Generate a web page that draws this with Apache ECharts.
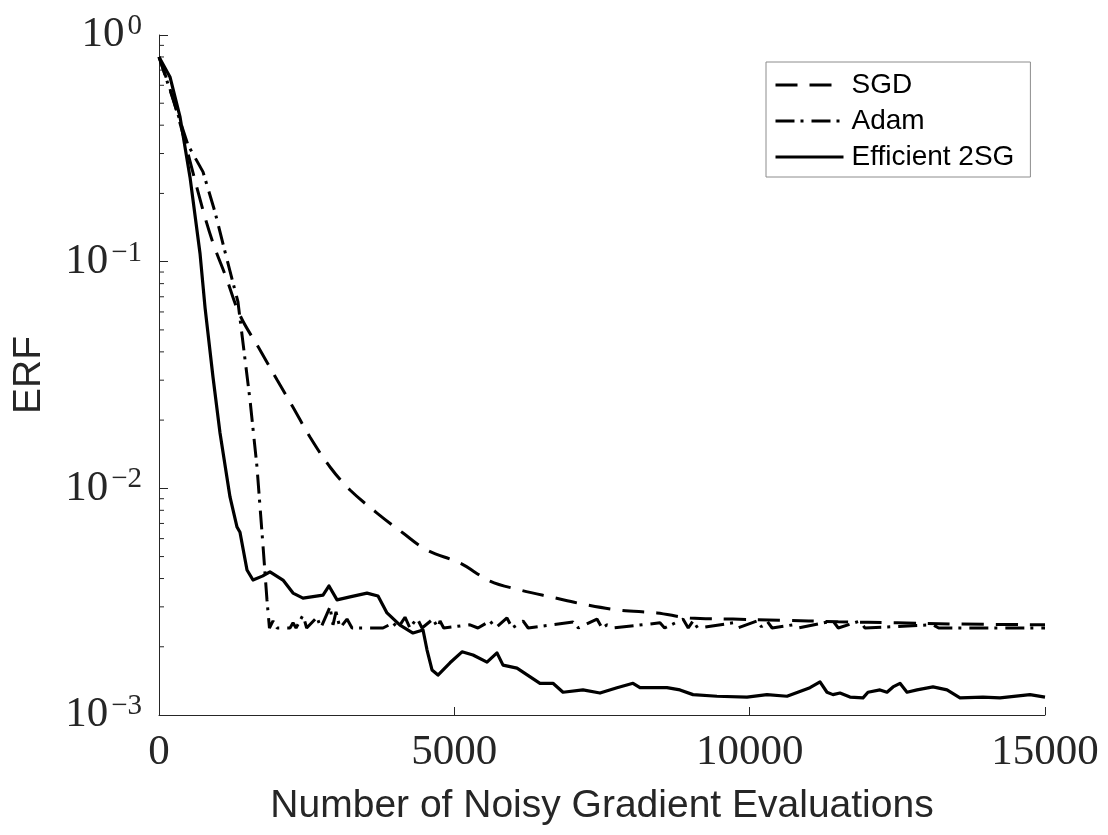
<!DOCTYPE html>
<html>
<head>
<meta charset="utf-8">
<script src="https://cdn.jsdelivr.net/npm/echarts@6/dist/echarts.min.js"></script>
<style>
  html, body { margin: 0; padding: 0; background: #fff; }
  #main { width: 1108px; height: 835px; }
</style>
</head>
<body>
<div id="main"></div>
<script>
// series names as they appear in the legend
var seriesNames = ['SGD', 'Adam', 'Efficient 2SG'];

// SGD (dashed)
var sgdX = [0, 271, 728, 914, 1134, 1371, 1710, 1998, 2269, 2556, 2895, 3234, 3691, 4131, 4537,
  5096, 5604, 6112, 6670, 7246, 7805, 8431, 8990, 9718, 10500, 11500, 12500, 13500, 15000];
var sgdY = [0.80, 0.49, 0.175, 0.121, 0.0856, 0.058, 0.0408, 0.0301, 0.0228, 0.01684, 0.01242,
  0.00983, 0.00778, 0.00635, 0.00534, 0.00468, 0.0039, 0.00356, 0.0033, 0.00306, 0.0029,
  0.00282, 0.00268, 0.00265, 0.00262, 0.00258, 0.00255, 0.00252, 0.0025];

// Adam (dash-dot)
var adamX = [0, 186, 491, 745, 948, 1101, 1337, 1541, 1659, 1761, 1828, 1870, 1930, 2000, 2218,
  2269, 2320, 2438, 2500, 2675, 2740, 2895, 2946, 2997, 3064, 3183, 3268, 3792, 3962, 4046,
  4165, 4249, 4368, 4453, 4639, 4723, 4758, 4820, 5265, 5400, 5604, 5700, 5891, 5980, 6163,
  6250, 7009, 7100, 7415, 7500, 7585, 7680, 8482, 8560, 8871, 8960, 9041, 9120, 9718, 9800,
  10124, 10200, 10293, 10380, 10733, 10820, 11411, 11500, 11868, 11950, 13104, 13200, 15000];
var adamY = [0.80, 0.572, 0.327, 0.249, 0.1656, 0.1149, 0.0664, 0.0245, 0.01242, 0.00557,
  0.00322, 0.00242, 0.0026, 0.00242, 0.00242, 0.00255, 0.00242, 0.00276, 0.00242, 0.0027,
  0.00242, 0.0030, 0.0025, 0.00285, 0.00242, 0.00265, 0.00242, 0.00242, 0.00255, 0.00242,
  0.0027, 0.00242, 0.00268, 0.00242, 0.00265, 0.00242, 0.0026, 0.00242, 0.0025, 0.00242,
  0.0026, 0.00242, 0.00268, 0.00242, 0.0026, 0.00242, 0.00257, 0.00242, 0.00265, 0.00242,
  0.0025, 0.00242, 0.00255, 0.00242, 0.00265, 0.00242, 0.0026, 0.00242, 0.00255, 0.00242,
  0.0026, 0.00245, 0.0026, 0.00242, 0.0025, 0.00242, 0.0026, 0.00242, 0.0026, 0.00242,
  0.0025, 0.00242, 0.00242];

// Efficient 2SG (solid)
var effX = [0, 186, 356, 525, 694, 780, 914, 1033, 1202, 1321, 1371, 1490, 1591, 1750, 1879,
  2099, 2269, 2438, 2777, 2878, 3014, 3234, 3521, 3708, 3860, 4080, 4300, 4470, 4537, 4622,
  4723, 4927, 5130, 5316, 5553, 5722, 5824, 6061, 6450, 6670, 6840, 7178, 7466, 7754, 8025,
  8143, 8600, 8820, 9041, 9447, 9955, 10293, 10632, 11021, 11191, 11309, 11411, 11529, 11699,
  11919, 12003, 12206, 12325, 12427, 12545, 12664, 12833, 13104, 13341, 13561, 13950, 14238,
  14746, 15000];
var effY = [0.80, 0.653, 0.435, 0.236, 0.109, 0.0625, 0.031, 0.01754, 0.00916, 0.00675, 0.0064,
  0.00436, 0.00394, 0.0041, 0.00428, 0.00394, 0.00345, 0.00328, 0.00338, 0.00371, 0.00322,
  0.00332, 0.00345, 0.00335, 0.00282, 0.00249, 0.0023, 0.00237, 0.00194, 0.00158, 0.0015,
  0.0017, 0.0019, 0.00184, 0.00171, 0.00188, 0.00166, 0.00161, 0.00138, 0.00138, 0.00126,
  0.00129, 0.00125, 0.00132, 0.00138, 0.00132, 0.00132, 0.00129, 0.00123, 0.00121, 0.0012,
  0.00123, 0.00121, 0.00132, 0.0014, 0.00126, 0.00123, 0.00125, 0.0012, 0.00119, 0.00126,
  0.00129, 0.00126, 0.00133, 0.00138, 0.00126, 0.00129, 0.00133, 0.00129, 0.00119, 0.0012,
  0.00119, 0.00123, 0.0012];

// axis ticks
var xTicks = [0, 5000, 10000, 15000];
var yMin = 0.001, yMax = 1;

function zip(xs, ys) {
  var out = [];
  for (var i = 0; i < xs.length; i++) out.push([xs[i], ys[i]]);
  return out;
}

var axisColor = '#262626';
var myChart = echarts.init(document.getElementById('main'));
var option = {
  animation: false,
  backgroundColor: '#fff',
  color: ['#000', '#000', '#000'],
  grid: { left: 159, right: 63, top: 35, bottom: 120, containLabel: false },
  legend: {
    data: seriesNames,
    orient: 'vertical',
    left: 766,
    top: 62,
    padding: [9, 16, 6, 8],
    itemGap: 8,
    itemWidth: 68,
    itemHeight: 14,
    borderColor: '#8c8c8c',
    borderWidth: 1,
    backgroundColor: '#fff',
    itemStyle: { opacity: 0 },
    lineStyle: { width: 3 },
    textStyle: { fontFamily: 'Liberation Sans', fontSize: 28, color: '#000', padding: [0, 0, 0, 3] }
  },
  xAxis: {
    type: 'value',
    min: xTicks[0],
    max: xTicks[xTicks.length - 1],
    interval: xTicks[1] - xTicks[0],
    name: 'Number of Noisy Gradient Evaluations',
    nameLocation: 'middle',
    nameGap: 72,
    nameTextStyle: { fontFamily: 'Liberation Sans', fontSize: 39, color: axisColor },
    axisLine: { lineStyle: { color: axisColor, width: 1 } },
    axisTick: { inside: true, length: 8, lineStyle: { color: axisColor } },
    axisLabel: {
      margin: 16,
      fontFamily: 'Liberation Serif',
      fontSize: 43,
      color: axisColor,
      formatter: function (v) { return String(v); }
    },
    splitLine: { show: false }
  },
  yAxis: {
    type: 'log',
    logBase: 10,
    min: yMin,
    max: yMax,
    name: 'ERF',
    nameLocation: 'middle',
    nameRotate: 90,
    nameGap: 110,
    nameTextStyle: { fontFamily: 'Liberation Sans', fontSize: 39, color: axisColor },
    axisLine: { show: true, lineStyle: { color: axisColor, width: 1 } },
    axisTick: { inside: true, length: 9, lineStyle: { color: axisColor } },
    axisLabel: {
      margin: 17,
      color: axisColor,
      formatter: function (v) {
        var e = Math.round(Math.log10(v));
        var s = e < 0 ? '\u2212' + (-e) : '' + e;
        return '{b|10}{s|' + s + '}';
      },
      rich: {
        b: { fontFamily: 'Liberation Serif', fontSize: 43, lineHeight: 46, color: axisColor },
        s: { fontFamily: 'Liberation Serif', fontSize: 29, verticalAlign: 'top', color: axisColor, padding: [0, 0, 0, 3] }
      }
    },
    splitLine: { show: false }
  },
  series: [
    {
      name: seriesNames[0],
      type: 'line',
      data: zip(sgdX, sgdY),
      showSymbol: false,
      symbol: 'none',
      smooth: 0.35,
      itemStyle: { color: '#000' },
      lineStyle: { color: '#000', width: 3, type: [22, 12], cap: 'butt' }
    },
    {
      name: seriesNames[1],
      type: 'line',
      data: zip(adamX, adamY),
      showSymbol: false,
      symbol: 'none',
      itemStyle: { color: '#000' },
      lineStyle: { color: '#000', width: 3, type: [19, 6, 3, 8], cap: 'butt' }
    },
    {
      name: seriesNames[2],
      type: 'line',
      data: zip(effX, effY),
      showSymbol: false,
      symbol: 'none',
      itemStyle: { color: '#000' },
      lineStyle: { color: '#000', width: 3.2, join: 'round' }
    }
  ]
};
option && myChart.setOption(option);

// minor ticks of the log axis (2..9 in each decade), placed through the axis scale
var minorLines = [];
var x0 = myChart.convertToPixel({ xAxisIndex: 0 }, xTicks[0]);
for (var d = yMin; d < yMax; d *= 10) {
  for (var k = 2; k <= 9; k++) {
    var py = myChart.convertToPixel({ yAxisIndex: 0 }, k * d);
    minorLines.push({
      type: 'line',
      silent: true,
      shape: { x1: x0, y1: py, x2: x0 + 5, y2: py },
      style: { stroke: axisColor, lineWidth: 1 }
    });
  }
}
myChart.setOption({ graphic: minorLines });
</script>
</body>
</html>
